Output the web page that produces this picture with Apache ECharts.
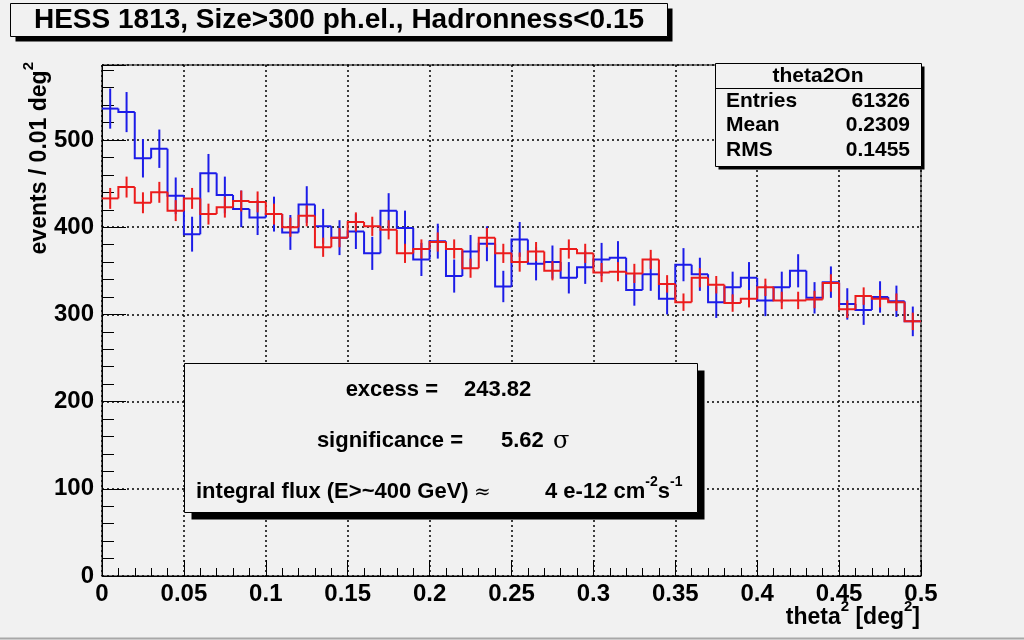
<!DOCTYPE html>
<html>
<head>
<meta charset="utf-8">
<script src="https://cdn.jsdelivr.net/npm/echarts@6/dist/echarts.min.js"></script>
<style>
  html, body { margin: 0; padding: 0; background: #f1f1f1; }
  #chart { width: 1024px; height: 640px; }
</style>
</head>
<body>
<div id="chart"></div>
<script>
// theta^2 histogram, 50 bins of 0.01 deg^2 between 0 and 0.5
const BIN = 0.01
// ON counts (blue)
const blueCounts = [536, 532, 479, 490, 436, 392, 462, 437, 421, 411,
  415, 394, 426, 401, 388, 395, 370, 419, 399, 363,
  384, 344, 372, 381, 332, 386, 358, 360, 342, 354,
  363, 365, 328, 346, 318, 357, 346, 314, 331, 342,
  316, 331, 350, 319, 337, 312, 305, 320, 315, 292]
const blueErr = [23, 23, 22, 22, 21, 20, 22, 21, 21, 20,
  20, 20, 21, 20, 20, 20, 19, 20, 20, 19,
  20, 19, 19, 20, 18, 20, 19, 19, 18, 19,
  19, 19, 18, 19, 18, 19, 19, 18, 18, 18,
  18, 18, 19, 18, 18, 18, 17, 18, 18, 17]
// OFF counts, normalised (red)
const redCounts = [433, 446, 428, 440, 419, 433, 415, 423, 430, 429,
  415, 400, 413, 377, 388, 406, 401, 397, 370, 375,
  383, 375, 353, 388, 370, 360, 372, 350, 375, 370,
  348, 349, 347, 363, 335, 314, 342, 334, 313, 318,
  331, 316, 316, 317, 336, 306, 321, 318, 314, 292]
const redErr = [12, 12, 12, 12, 12, 12, 12, 12, 12, 12,
  12, 11, 12, 11, 11, 11, 11, 11, 11, 11,
  11, 11, 11, 11, 11, 11, 11, 11, 11, 11,
  11, 11, 11, 11, 10, 10, 11, 10, 10, 10,
  10, 10, 10, 10, 10, 10, 10, 10, 10, 10]

const statLabels = ['Entries', 'Mean', 'RMS']
const statValues = ['61326', '0.2309', '0.1455']

const BG = '#f1f1f1'
const FONT = '"Liberation Sans", Arial, Helvetica, sans-serif'

const binLow = blueCounts.map((v, i) => +(i * BIN).toFixed(2))

function histSeries (name, counts, errs, color) {
  return {
    type: 'custom',
    name: name,
    data: counts.map((v, i) => [binLow[i], v, errs[i]]),
    encode: { x: 0, y: 1 },
    silent: true,
    renderItem: function (params, api) {
      const i = params.dataIndex
      const lo = api.value(0), v = api.value(1), e = api.value(2)
      const prev = i > 0 ? counts[i - 1] : v
      const a = api.coord([lo, prev])
      const b = api.coord([lo, v])
      const c = api.coord([lo + BIN, v])
      const t = api.coord([lo + BIN / 2, v + e])
      const d = api.coord([lo + BIN / 2, v - e])
      const st = { stroke: color, lineWidth: 2, fill: null }
      return {
        type: 'group',
        children: [
          { type: 'polyline', shape: { points: [a, b, c] }, style: st },
          { type: 'line', shape: { x1: t[0], y1: t[1], x2: d[0], y2: d[1] }, style: st }
        ]
      }
    }
  }
}

function txt (x, y, text, opt) {
  return {
    type: 'text', x: x, y: y, z: 100, silent: true,
    style: Object.assign({
      text: text, fill: '#000', font: 'bold 22px ' + FONT,
      align: 'left', verticalAlign: 'middle'
    }, opt || {})
  }
}

function box (x, y, w, h, sh) {
  return [
    { type: 'rect', z: 90, silent: true, shape: { x: x + sh, y: y + sh, width: w, height: h }, style: { fill: '#000' } },
    { type: 'rect', z: 91, silent: true, shape: { x: x, y: y, width: w, height: h }, style: { fill: BG, stroke: '#000', lineWidth: 1 } }
  ]
}

const supRich = {
  t: { fontSize: 23, fontWeight: 'bold', fontFamily: FONT, lineHeight: 30, verticalAlign: 'bottom', fill: '#000' },
  s: { fontSize: 15, fontWeight: 'bold', fontFamily: FONT, lineHeight: 30, verticalAlign: 'top', fill: '#000' }
}
const supRich22 = {
  t: { fontSize: 22, fontWeight: 'bold', fontFamily: FONT, lineHeight: 28, verticalAlign: 'bottom', fill: '#000' },
  s: { fontSize: 14, fontWeight: 'bold', fontFamily: FONT, lineHeight: 28, verticalAlign: 'top', fill: '#000' }
}

const graphics = [].concat(
  // title
  box(10.5, 3.5, 657, 33, 5),
  [txt(339, 20, 'HESS 1813, Size>300 ph.el., Hadronness<0.15', { font: 'bold 28px ' + FONT, align: 'center' })],
  // stats box
  box(715.5, 63.5, 206, 103, 3),
  [{ type: 'line', z: 95, silent: true, shape: { x1: 715.5, y1: 88.5, x2: 921.5, y2: 88.5 }, style: { stroke: '#000', lineWidth: 1 } },
   txt(818, 76, 'theta2On', { font: 'bold 21px ' + FONT, align: 'center' })],
  statLabels.map((s, i) => txt(726, 101 + i * 24.5, s, { font: 'bold 21px ' + FONT })),
  statValues.map((s, i) => txt(910, 101 + i * 24.5, s, { font: 'bold 21px ' + FONT, align: 'right' })),
  // result box
  box(184.5, 363.5, 513, 149, 7),
  [
    txt(438, 390, 'excess =', { align: 'right' }),
    txt(464, 390, '243.82'),
    txt(463, 441, 'significance =', { align: 'right' }),
    txt(501, 441, '5.62'),
    txt(553, 442, 'σ', { font: '24px "DejaVu Serif", "Liberation Serif", serif' }),
    txt(196, 492, 'integral flux (E>~400 GeV)'),
    txt(474, 493, '≈', { font: '20px "DejaVu Serif", "Liberation Serif", serif' }),
    txt(545, 489, '{t|4 e-12 cm}{s|-2}{t|s}{s|-1}', { rich: supRich22 }),
    // axis titles
    txt(920, 614, '{t|theta}{s|2}{t| [deg}{s|2}{t|]}', { rich: supRich, align: 'right' }),
    Object.assign(txt(36, 62, '{t|events / 0.01 deg}{s|2}', { rich: supRich, align: 'right' }), { rotation: Math.PI / 2 }),
    // canvas bottom edge
    { type: 'line', z: 95, silent: true, shape: { x1: 0, y1: 638.5, x2: 1024, y2: 638.5 }, style: { stroke: '#a8a8a8', lineWidth: 2 } }
  ]
)

const gridLine = { show: true, lineStyle: { color: '#000', width: 1.5, type: [2, 3] } }

const chart = echarts.init(document.getElementById('chart'))
chart.setOption({
  backgroundColor: BG,
  animation: false,
  grid: { left: 102, right: 103, top: 65, bottom: 64, show: true, borderColor: '#000', borderWidth: 1, backgroundColor: BG },
  xAxis: {
    type: 'value', min: 0, max: 0.5, interval: 0.05,
    axisLine: { lineStyle: { color: '#000', width: 1 } },
    axisTick: { inside: true, length: 16, lineStyle: { color: '#000' } },
    minorTick: { show: true, splitNumber: 5, length: 8, lineStyle: { color: '#000' } },
    splitLine: gridLine,
    axisLabel: { color: '#000', fontFamily: FONT, fontWeight: 'bold', fontSize: 24, margin: 6 }
  },
  yAxis: {
    type: 'value', min: 0, max: 586, interval: 100,
    axisLine: { show: true, lineStyle: { color: '#000', width: 1 } },
    axisTick: { show: true, inside: true, length: 24, lineStyle: { color: '#000' } },
    minorTick: { show: true, splitNumber: 5, length: 12, lineStyle: { color: '#000' } },
    splitLine: gridLine,
    axisLabel: { color: '#000', fontFamily: FONT, fontWeight: 'bold', fontSize: 24, margin: 8, showMaxLabel: false }
  },
  series: [
    histSeries('on', blueCounts, blueErr, '#1c1ce8'),
    histSeries('off', redCounts, redErr, '#ec1c1c')
  ],
  graphic: graphics
})
</script>
</body>
</html>
